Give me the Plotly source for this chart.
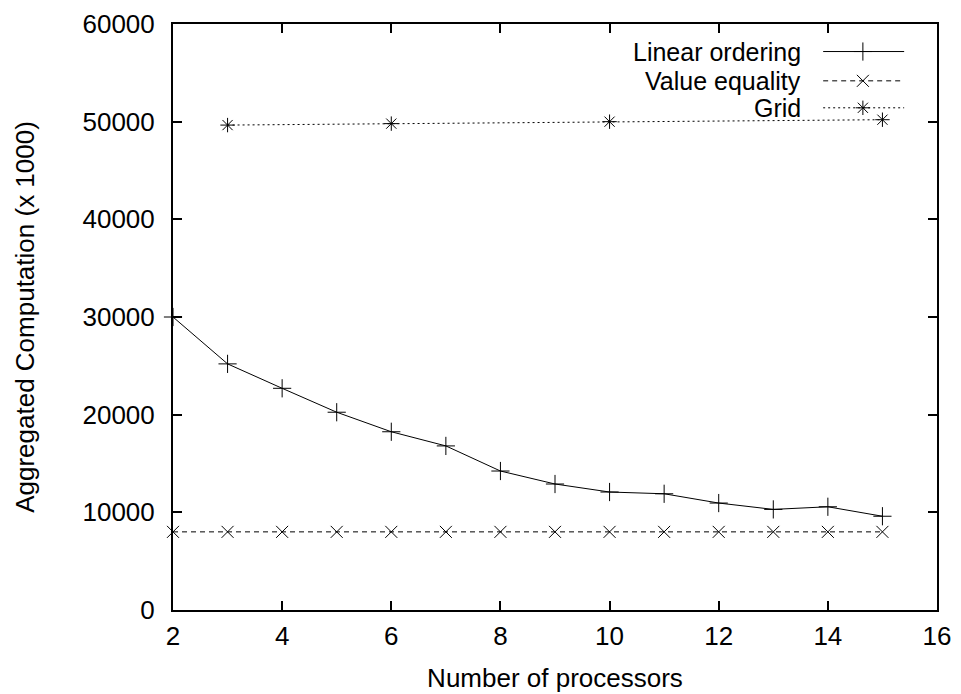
import plotly.graph_objects as go

# ---- data ----
lin_x = [2, 3, 4, 5, 6, 7, 8, 9, 10, 11, 12, 13, 14, 15]
lin_y = [30000, 25200, 22700, 20250, 18250, 16800, 14230, 12900, 12080, 11900, 10950, 10300, 10570, 9600]
val_x = [2, 3, 4, 5, 6, 7, 8, 9, 10, 11, 12, 13, 14, 15]
val_y = [8000, 8000, 8000, 8000, 8000, 8000, 8000, 8000, 8000, 8000, 8000, 8000, 8000, 8000]
grid_x = [3, 6, 10, 15]
grid_y = [49650, 49800, 50000, 50200]
series_names = ["Linear ordering", "Value equality", "Grid"]
x_ticks = [2, 4, 6, 8, 10, 12, 14, 16]
y_ticks = [0, 10000, 20000, 30000, 40000, 50000, 60000]

FONT = "Liberation Sans, Arial, Helvetica, sans-serif"
FS = 26
styles = [
    dict(dash="solid", symbol="cross-thin-open", size=13),
    dict(dash="5px,4px", symbol="x-thin-open", size=12),
    dict(dash="2px,3px", symbol="asterisk-open", size=12),
]

fig = go.Figure()
for (xs, ys), st, name in zip([(lin_x, lin_y), (val_x, val_y), (grid_x, grid_y)], styles, series_names):
    fig.add_trace(go.Scatter(
        x=xs, y=ys, mode="lines+markers", name=name, showlegend=False,
        line=dict(color="black", width=1, dash=st["dash"]),
        marker=dict(symbol=st["symbol"], size=st["size"], color="black",
                    line=dict(color="black", width=1)),
        cliponaxis=False,
    ))

# gnuplot-style key: text right-aligned, sample to the right (drawn on a helper 0..1 axis)
key_rows = [0.953, 0.903, 0.857]
for name, st, ky in zip(series_names, styles, key_rows):
    fig.add_trace(go.Scatter(
        x=[0.851, 0.903, 0.957], y=[ky, ky, ky], xaxis="x2", yaxis="y2",
        mode="lines", showlegend=False, hoverinfo="skip",
        line=dict(color="black", width=1, dash=st["dash"]),
    ))
    fig.add_trace(go.Scatter(
        x=[0.903], y=[ky], xaxis="x2", yaxis="y2", mode="markers",
        showlegend=False, hoverinfo="skip",
        marker=dict(symbol=st["symbol"], size=st["size"], color="black",
                    line=dict(color="black", width=1)),
    ))
    fig.add_annotation(xref="x2", yref="y2", x=0.8246, y=ky, text=name,
                       showarrow=False, xanchor="right", yanchor="middle",
                       font=dict(family=FONT, size=25, color="black"))

axis_common = dict(
    showgrid=False, zeroline=False, showline=True, linecolor="black", linewidth=2,
    mirror="ticks", ticks="inside", ticklen=9, tickwidth=1.5, tickcolor="black",
    tickfont=dict(family=FONT, size=FS, color="black"), automargin=False,
)
fig.update_layout(
    template="none",
    width=961, height=694,
    margin=dict(l=173, r=24, t=24, b=84),
    paper_bgcolor="white", plot_bgcolor="white",
    xaxis=dict(range=[2, 16], tickvals=x_ticks, tickformat="d", ticklabelstandoff=2,
               title=dict(text="Number of processors", standoff=19,
                          font=dict(family=FONT, size=FS, color="black")),
               **axis_common),
    yaxis=dict(range=[0, 60000], tickvals=y_ticks, tickformat="d", ticklabelstandoff=11,
               title=dict(text="Aggregated Computation (x 1000)", standoff=40,
                          font=dict(family=FONT, size=FS, color="black")),
               **axis_common),
    xaxis2=dict(range=[0, 1], overlaying="x", visible=False, fixedrange=True),
    yaxis2=dict(range=[0, 1], overlaying="y", visible=False, fixedrange=True),
    showlegend=False,
)
fig.write_html("out.html")
